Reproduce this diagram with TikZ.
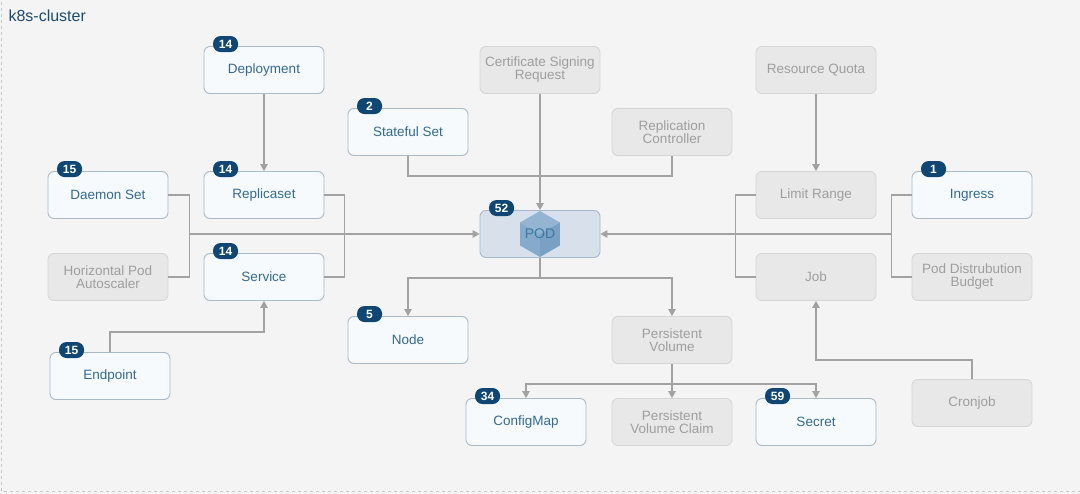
\documentclass[tikz,border=0pt]{standalone}
\usepackage{fontspec}
\setmainfont{Liberation Sans}
\usetikzlibrary{arrows.meta,calc}
\definecolor{bgcol}{HTML}{F4F4F4}
\definecolor{boxblue}{HTML}{F6FAFD}
\definecolor{boxblueline}{HTML}{A9BAC8}
\definecolor{txtblue}{HTML}{346A8E}
\definecolor{boxgray}{HTML}{E8E8E8}
\definecolor{boxgrayline}{HTML}{D6D6D6}
\definecolor{txtgray}{HTML}{9E9E9E}
\definecolor{badgecol}{HTML}{0F4673}
\definecolor{linecol}{HTML}{A2A2A2}
\definecolor{podfill}{HTML}{D8E1EB}
\definecolor{podline}{HTML}{A6BACD}
\definecolor{podtxt}{HTML}{3D78A6}
\definecolor{hextop}{HTML}{93B5D3}
\definecolor{hexleft}{HTML}{85AACB}
\definecolor{hexright}{HTML}{7AA1C4}
\definecolor{titlecol}{HTML}{1E4A70}
\tikzset{
  box/.style      = {draw,rounded corners=6pt,minimum width=120pt,minimum height=47pt,
                     align=center,inner sep=2pt,line width=0.9pt,
                     font=\fontsize{13.5}{13}\selectfont},
  bluebox/.style  = {box,fill=boxblue,draw=boxblueline,text=txtblue},
  graybox/.style  = {box,fill=boxgray,draw=boxgrayline,text=txtgray},
  podbox/.style   = {box,fill=podfill,draw=podline},
  badge/.style    = {fill=badgecol,text=white,rounded corners=7.5pt,minimum width=25pt,
                     minimum height=16pt,inner sep=0pt,
                     font=\fontsize{12}{12}\selectfont\bfseries},
  link/.style     = {draw=linecol,line width=1.2pt},
  linkarr/.style  = {link,-{Triangle[length=7pt,width=7.5pt]}}
}
\newcommand{\nbadge}[3]{%
  \node[badge] (#1) at ([xshift=22pt,yshift=2pt]#2.north west) {#3};
}

\begin{document}
\begin{tikzpicture}[x=1pt,y=-1pt]
  \useasboundingbox (0,0) rectangle (1080,494);
  \fill[bgcol] (0,0) rectangle (1080,494);
  \draw[linecol!60,dashed,line width=0.8pt] (1.5,-10) -- (1.5,491.5) -- (1090,491.5);
  \node[anchor=west,text=titlecol,font=\fontsize{16}{16}\selectfont] (title) at (5,16) {k8s-cluster};

  \node[bluebox] (dep)  at (264,70)  {Deployment};
  \node[bluebox] (rs)   at (264,195) {Replicaset};
  \node[bluebox] (svc)  at (264,277) {Service};
  \node[bluebox] (ds)   at (108,195) {Daemon Set};
  \node[graybox] (hpa)  at (108,277) {Horizontal Pod\\Autoscaler};
  \node[bluebox] (ep)   at (110,376) {Endpoint};
  \node[bluebox] (ss)   at (408,132) {Stateful Set};
  \node[graybox] (csr)  at (540,70)  {Certificate Signing\\Request};
  \node[graybox] (rc)   at (672,132) {Replication\\Controller};
  \node[podbox]  (pod)  at (540,234) {};
  \node[bluebox] (node) at (408,340) {Node};
  \node[graybox] (pv)   at (672,340) {Persistent\\Volume};
  \node[bluebox] (cm)   at (526,422) {ConfigMap};
  \node[graybox] (pvc)  at (672,422) {Persistent\\Volume Claim};
  \node[bluebox] (sec)  at (816,422) {Secret};
  \node[graybox] (rq)   at (816,70)  {Resource Quota};
  \node[graybox] (lr)   at (816,195) {Limit Range};
  \node[graybox] (job)  at (816,277) {Job};
  \node[bluebox] (ing)  at (972,195) {Ingress};
  \node[graybox] (pdb)  at (972,277) {Pod Distrubution\\Budget};
  \node[graybox] (cj)   at (972,403) {Cronjob};

  \fill[hextop]   ($(pod)+(0,-23)$) -- ++(19.9,11.5) -- ($(pod)+(0,0)$) -- ($(pod)+(-19.9,-11.5)$) -- cycle;
  \fill[hexleft]  ($(pod)+(-19.9,-11.5)$) -- ($(pod)+(0,0)$) -- ($(pod)+(0,23)$) -- ($(pod)+(-19.9,11.5)$) -- cycle;
  \fill[hexright] ($(pod)+(0,0)$) -- ($(pod)+(19.9,-11.5)$) -- ($(pod)+(19.9,11.5)$) -- ($(pod)+(0,23)$) -- cycle;
  \node[text=podtxt,font=\fontsize{14}{14}\selectfont] (podlbl) at (pod) {POD};

  \nbadge{dep-b}{dep}{14}
  \nbadge{rs-b}{rs}{14}
  \nbadge{svc-b}{svc}{14}
  \nbadge{ds-b}{ds}{15}
  \nbadge{ep-b}{ep}{15}
  \nbadge{ss-b}{ss}{2}
  \nbadge{pod-b}{pod}{52}
  \nbadge{node-b}{node}{5}
  \nbadge{cm-b}{cm}{34}
  \nbadge{sec-b}{sec}{59}
  \nbadge{ing-b}{ing}{1}

  \draw[linkarr] (dep) -- (rs);
  \draw[link] (ds.east) -- ++(21,0) coordinate (jl1) |- (hpa.east);
  \draw[link] (rs.east) -- ++(20,0) |- (svc.east);
  \draw[linkarr] (jl1 |- pod.west) -- (pod.west);
  \draw[linkarr] (ep.north) -- ++(0,-20) -| (svc.south);
  \draw[link] (ss.south) -- ++(0,20) -| (rc.south);
  \draw[linkarr] (csr) -- (pod);
  \draw[link] (pod.south) -- ++(0,20) coordinate (jpd);
  \draw[linkarr] (jpd) -| (node.north);
  \draw[linkarr] (jpd) -| (pv.north);
  \draw[linkarr] (pv) -- (pvc);
  \draw[link] (pv.south) -- ++(0,20) coordinate (jpv);
  \draw[linkarr] (jpv) -| (cm.north);
  \draw[linkarr] (jpv) -| (sec.north);
  \draw[linkarr] (rq) -- (lr);
  \draw[link] (lr.west) -- ++(-20,0) |- (job.west);
  \draw[link] (ing.west) -- ++(-20,0) coordinate (jr2) |- (pdb.west);
  \draw[linkarr] (jr2 |- pod.east) -- (pod.east);
  \draw[linkarr] (cj.north) -- ++(0,-19) -| (job.south);
\end{tikzpicture}
\end{document}
